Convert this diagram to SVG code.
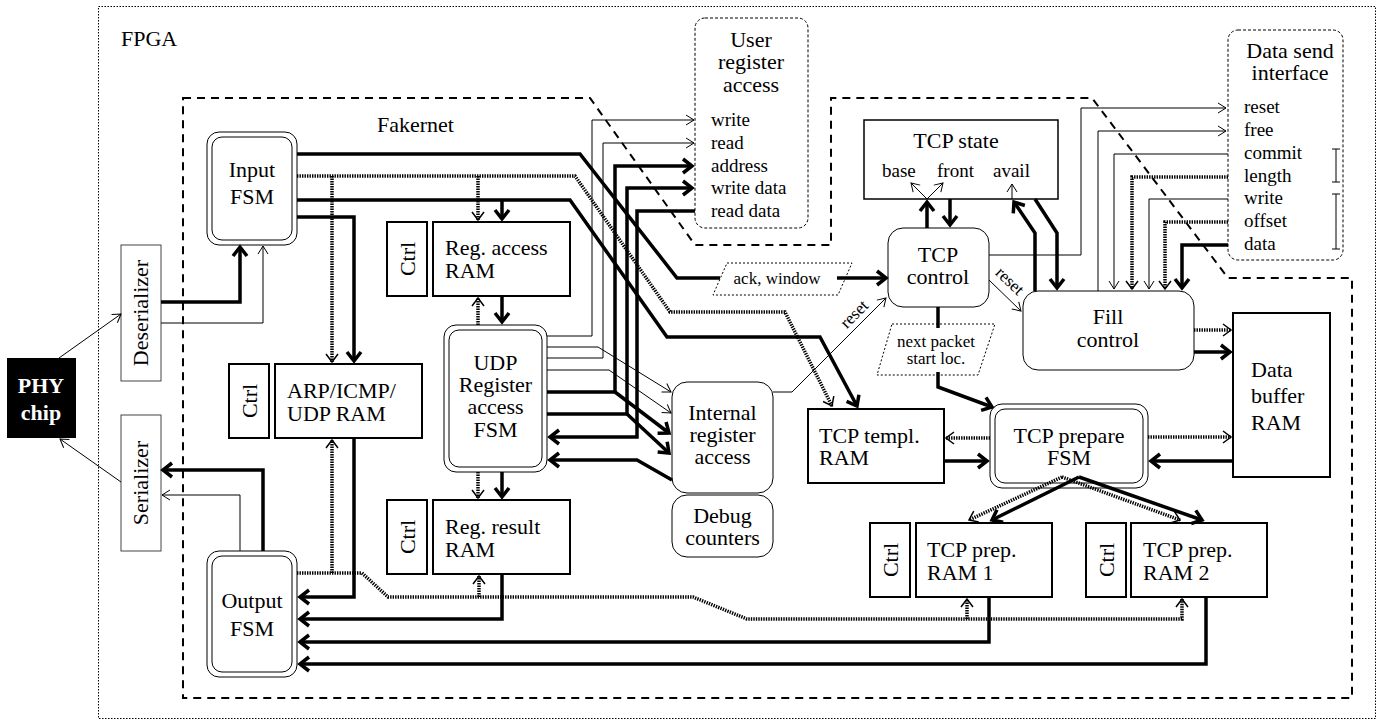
<svg xmlns="http://www.w3.org/2000/svg" width="1384" height="722" viewBox="0 0 1384 722">
<style>
.t{font-family:"Liberation Serif","Times New Roman",serif;font-size:22px;fill:#000}
.m{text-anchor:middle}
.s{font-size:19px}
.xs{font-size:17px}
.box{fill:#fff;stroke:#000;stroke-width:2}
.sbox{fill:#fff;stroke:#444;stroke-width:1}
.rbox{fill:#fff;stroke:#000;stroke-width:1}
.thin{fill:none;stroke:#000;stroke-width:1}
.thick{fill:none;stroke:#000;stroke-width:3.5}
.dot{fill:none;stroke:#000;stroke-width:3.5;stroke-dasharray:1.4 1.1}
.lbl{fill:none;stroke:#000;stroke-width:1;stroke-dasharray:2 2}
</style>
<defs>
<marker id="ak" markerUnits="userSpaceOnUse" markerWidth="24" markerHeight="24" viewBox="-12 -12 24 24" refX="0" refY="0" orient="auto" overflow="visible"><path d="M-9,-7 L0,0 L-9,7" fill="none" stroke="#000" stroke-width="3.5"/></marker>
<marker id="at" markerUnits="userSpaceOnUse" markerWidth="20" markerHeight="20" viewBox="-10 -10 20 20" refX="0" refY="0" orient="auto" overflow="visible"><path d="M-8,-5 L0,0 L-8,5" fill="none" stroke="#000" stroke-width="1"/></marker>
<marker id="ad" markerUnits="userSpaceOnUse" markerWidth="20" markerHeight="20" viewBox="-10 -10 20 20" refX="0" refY="0" orient="auto" overflow="visible"><path d="M-8,-6 L0,0 L-8,6" fill="none" stroke="#000" stroke-width="1.5"/></marker>
</defs>
<rect width="1384" height="722" fill="#fff"/>

<g id="fpga">
<rect x="98.5" y="6.5" width="1277" height="712" fill="none" stroke="#000" stroke-width="1" stroke-dasharray="1.5 1.5"/>
<text class="t" x="121" y="46">FPGA</text>
</g>
<g id="fakernet">
<polygon points="183,98 590,98 695,245 831,245 831,98 1092,98 1228,278 1352,278 1352,698 183,698" fill="none" stroke="#000" stroke-width="2" stroke-dasharray="8 6"/>
<text class="t" x="377" y="132">Fakernet</text>
</g>

<g id="user-reg">
<rect x="695" y="18" width="113" height="210" rx="10" fill="none" stroke="#000" stroke-width="1" stroke-dasharray="3 2"/>
<text class="t m" x="751" y="47">User</text>
<text class="t m" x="751" y="69">register</text>
<text class="t m" x="751" y="92">access</text>
<text class="t s" x="711" y="126">write</text>
<text class="t s" x="711" y="149">read</text>
<text class="t s" x="711" y="172">address</text>
<text class="t s" x="711" y="194">write data</text>
<text class="t s" x="711" y="217">read data</text>
</g>

<g id="data-send">
<rect x="1228" y="30" width="115" height="230" rx="10" fill="none" stroke="#000" stroke-width="1" stroke-dasharray="3 2"/>
<text class="t m" x="1290" y="58">Data send</text>
<text class="t m" x="1290" y="80">interface</text>
<text class="t s" x="1244" y="113">reset</text>
<text class="t s" x="1244" y="136">free</text>
<text class="t s" x="1244" y="159">commit</text>
<text class="t s" x="1244" y="182">length</text>
<text class="t s" x="1244" y="204">write</text>
<text class="t s" x="1244" y="227">offset</text>
<text class="t s" x="1244" y="250">data</text>
<path class="thin" d="M1336,149 V182 M1332,149 H1340 M1332,182 H1340 M1336,194 V249 M1332,194 H1340 M1332,249 H1340"/>
</g>

<g id="phy">
<rect x="7" y="358" width="69" height="80" fill="#000"/>
<text class="t m" x="41" y="393" style="fill:#fff;font-weight:bold">PHY</text>
<text class="t m" x="41" y="420" style="fill:#fff;font-weight:bold">chip</text>
</g>
<g id="deserializer">
<rect class="sbox" x="121" y="245" width="40" height="136"/>
<text class="t m" transform="translate(141,313) rotate(-90)" y="7">Deserializer</text>
</g>
<g id="serializer">
<rect class="sbox" x="121" y="415" width="40" height="136"/>
<text class="t m" transform="translate(141,483) rotate(-90)" y="7">Serializer</text>
</g>

<g id="input-fsm">
<rect class="rbox" x="207" y="132" width="90" height="113" rx="12"/>
<rect class="rbox" x="212" y="137" width="80" height="103" rx="10"/>
<text class="t m" x="252" y="177">Input</text>
<text class="t m" x="252" y="204">FSM</text>
</g>
<g id="output-fsm">
<rect class="rbox" x="207" y="551" width="90" height="126" rx="12"/>
<rect class="rbox" x="212" y="556" width="80" height="116" rx="10"/>
<text class="t m" x="252" y="608">Output</text>
<text class="t m" x="252" y="636">FSM</text>
</g>

<g id="arp-ctrl">
<rect class="box" x="229" y="364" width="40" height="74"/>
<text class="t m" transform="translate(249,401) rotate(-90)" y="7.5">Ctrl</text>
</g>
<g id="arp-ram">
<rect class="box" x="275" y="364" width="147" height="74"/>
<text class="t" x="287" y="398">ARP/ICMP/</text>
<text class="t" x="287" y="421">UDP RAM</text>
</g>

<g id="regacc-ctrl">
<rect class="box" x="387" y="222" width="40" height="74"/>
<text class="t m" transform="translate(407,259) rotate(-90)" y="7.5">Ctrl</text>
</g>
<g id="regacc-ram">
<rect class="box" x="433" y="222" width="137" height="74"/>
<text class="t" x="445" y="255">Reg. access</text>
<text class="t" x="445" y="278">RAM</text>
</g>
<g id="regres-ctrl">
<rect class="box" x="387" y="500" width="40" height="74"/>
<text class="t m" transform="translate(407,537) rotate(-90)" y="7.5">Ctrl</text>
</g>
<g id="regres-ram">
<rect class="box" x="433" y="500" width="137" height="74"/>
<text class="t" x="445" y="534">Reg. result</text>
<text class="t" x="445" y="557">RAM</text>
</g>

<g id="udp-fsm">
<rect class="rbox" x="444" y="325" width="103" height="147" rx="12"/>
<rect class="rbox" x="449" y="330" width="93" height="137" rx="10"/>
<text class="t m" x="495.5" y="370">UDP</text>
<text class="t m" x="495.5" y="392">Register</text>
<text class="t m" x="495.5" y="414">access</text>
<text class="t m" x="495.5" y="437">FSM</text>
</g>

<g id="internal-reg">
<rect class="rbox" x="672" y="382" width="101" height="111" rx="15"/>
<text class="t m" x="722.5" y="420">Internal</text>
<text class="t m" x="722.5" y="442">register</text>
<text class="t m" x="722.5" y="464">access</text>
</g>
<g id="debug">
<rect class="rbox" x="672" y="495" width="101" height="62" rx="15"/>
<text class="t m" x="722.5" y="523">Debug</text>
<text class="t m" x="722.5" y="545">counters</text>
</g>

<g id="tcp-state">
<rect x="864" y="120" width="194" height="79" fill="#fff" stroke="#000" stroke-width="1.5"/>
<text class="t m" x="956" y="148">TCP state</text>
<text class="t s" x="882" y="177">base</text>
<text class="t s" x="937" y="177">front</text>
<text class="t s" x="993" y="177">avail</text>
</g>
<g id="tcp-control">
<rect class="rbox" x="888" y="228" width="101" height="79" rx="15"/>
<text class="t m" x="938" y="262">TCP</text>
<text class="t m" x="938" y="284">control</text>
</g>
<g id="fill-control">
<rect class="rbox" x="1023" y="291" width="171" height="79" rx="15"/>
<text class="t m" x="1108" y="324">Fill</text>
<text class="t m" x="1108" y="347">control</text>
</g>
<g id="data-buffer">
<rect class="box" x="1233" y="313" width="97" height="164"/>
<text class="t" x="1251" y="377">Data</text>
<text class="t" x="1251" y="403">buffer</text>
<text class="t" x="1251" y="430">RAM</text>
</g>
<g id="tcp-templ">
<rect class="box" x="808" y="409" width="136" height="74"/>
<text class="t" x="819" y="443">TCP templ.</text>
<text class="t" x="819" y="465">RAM</text>
</g>
<g id="tcp-prepare">
<rect class="rbox" x="990" y="404" width="158" height="84" rx="12"/>
<rect class="rbox" x="995" y="409" width="148" height="74" rx="10"/>
<text class="t m" x="1069" y="443">TCP prepare</text>
<text class="t m" x="1069" y="465">FSM</text>
</g>
<g id="prep1-ctrl">
<rect class="box" x="870" y="523" width="40" height="74"/>
<text class="t m" transform="translate(890,560) rotate(-90)" y="7.5">Ctrl</text>
</g>
<g id="prep1-ram">
<rect class="box" x="916" y="523" width="136" height="74"/>
<text class="t" x="927" y="557">TCP prep.</text>
<text class="t" x="927" y="580">RAM 1</text>
</g>
<g id="prep2-ctrl">
<rect class="box" x="1086" y="523" width="40" height="74"/>
<text class="t m" transform="translate(1106,560) rotate(-90)" y="7.5">Ctrl</text>
</g>
<g id="prep2-ram">
<rect class="box" x="1131" y="523" width="136" height="74"/>
<text class="t" x="1143" y="557">TCP prep.</text>
<text class="t" x="1143" y="580">RAM 2</text>
</g>

<g id="connectors">
<path class="thin" d="M59,358 L121,314" marker-end="url(#at)"/>
<path class="thin" d="M121,482 L60,439" marker-end="url(#at)"/>
<path class="thick" d="M161,302 H240 V247" marker-end="url(#ak)"/>
<path class="thin" d="M161,323 H263 V246" marker-end="url(#at)"/>
<path class="thick" d="M263,551 V470 H163" marker-end="url(#ak)"/>
<path class="thin" d="M240,551 V495 H162" marker-end="url(#at)"/>
<path class="thick" d="M297,154 H580 L677,278 H720"/>
<path class="thick" d="M837,278 H886" marker-end="url(#ak)"/>
<path class="dot" d="M297,176 H575 L670,312 H785 L832,406" marker-end="url(#ad)"/>
<path class="dot" d="M332,176 V362" marker-end="url(#ad)"/>
<path class="dot" d="M478,176 V220" marker-end="url(#ad)"/>
<path class="thick" d="M297,200 H570 L667,337 H820 L857,406" marker-end="url(#ak)"/>
<path class="thick" d="M502,200 V219" marker-end="url(#ak)"/>
<path class="thick" d="M297,217 H354 V361" marker-end="url(#ak)"/>
<path class="thick" d="M354,438 V597 H300" marker-end="url(#ak)"/>
<path class="dot" d="M297,573 H362 L388,597 H693 L747,619 H1182 V599" marker-end="url(#ad)"/>
<path class="dot" d="M332,573 V440" marker-end="url(#ad)"/>
<path class="dot" d="M479,597 V576" marker-end="url(#ad)"/>
<path class="dot" d="M967,619 V599" marker-end="url(#ad)"/>
<path class="thick" d="M502,574 V619 H300" marker-end="url(#ak)"/>
<path class="thick" d="M989,597 V642 H300" marker-end="url(#ak)"/>
<path class="thick" d="M1206,597 V664 H300" marker-end="url(#ak)"/>
<path class="thick" d="M502,296 V322" marker-end="url(#ak)"/>
<path class="dot" d="M478,325 V298" marker-end="url(#ad)"/>
<path class="thick" d="M502,472 V497" marker-end="url(#ak)"/>
<path class="dot" d="M478,472 V498" marker-end="url(#ad)"/>
<path class="thin" d="M547,336 H592 V120 H694" marker-end="url(#at)"/>
<path class="thin" d="M547,358 H603 V143 H694" marker-end="url(#at)"/>
<path class="thick" d="M547,392 H615 V166 H692" marker-end="url(#ak)"/>
<path class="thick" d="M615,392 L669,433" marker-end="url(#ak)"/>
<path class="thick" d="M547,414 H627 V188 H692" marker-end="url(#ak)"/>
<path class="thick" d="M627,414 L669,453" marker-end="url(#ak)"/>
<path class="thick" d="M695,211 H637 V437 H550" marker-end="url(#ak)"/>
<path class="thin" d="M547,347 H598 L671,392" marker-end="url(#at)"/>
<path class="thin" d="M547,370 H609 L671,413" marker-end="url(#at)"/>
<path class="thick" d="M672,480 L637,460 H550" marker-end="url(#ak)"/>
<path class="thin" d="M773,392 H792 L886,298" marker-end="url(#at)"/>
<text class="t xs m" transform="translate(858,318) rotate(-45)">reset</text>
<path class="thick" d="M927,228 V202" marker-end="url(#ak)"/>
<path class="thick" d="M950,199 V225" marker-end="url(#ak)"/>
<path class="thin" d="M927,199 L911,183" marker-end="url(#at)"/>
<path class="thin" d="M927,199 L943,183" marker-end="url(#at)"/>
<path class="thin" d="M1012,199 V184" marker-end="url(#at)"/>
<path class="thick" d="M1035,291 V233 L1014,202" marker-end="url(#ak)"/>
<path class="thick" d="M1035,199 L1057,233 V288" marker-end="url(#ak)"/>
<path class="thin" d="M989,280 L1021,311" marker-end="url(#at)"/>
<text class="t xs m" transform="translate(1006,285) rotate(44)">reset</text>
<path class="thin" d="M989,255 H1081 V108 H1226" marker-end="url(#at)"/>
<path class="thin" d="M1098,291 V131 H1226" marker-end="url(#at)"/>
<path class="thin" d="M1228,154 H1114 V289" marker-end="url(#at)"/>
<path class="dot" d="M1228,177 H1132 V289" marker-end="url(#ad)"/>
<path class="thin" d="M1228,199 H1149 V289" marker-end="url(#at)"/>
<path class="dot" d="M1228,222 H1165 V289" marker-end="url(#ad)"/>
<path class="thick" d="M1228,245 H1182 V288" marker-end="url(#ak)"/>
<path class="dot" d="M1194,330 H1231" marker-end="url(#ad)"/>
<path class="thick" d="M1194,352 H1230" marker-end="url(#ak)"/>
<path class="dot" d="M1148,437 H1231" marker-end="url(#ad)"/>
<path class="thick" d="M1233,461 H1151" marker-end="url(#ak)"/>
<path class="dot" d="M990,438 H946" marker-end="url(#ad)"/>
<path class="thick" d="M944,461 H987" marker-end="url(#ak)"/>
<path class="thick" d="M938,307 V328"/>
<path class="thick" d="M938,372 V387 L992,407" marker-end="url(#ak)"/>
<path class="dot" d="M1062,477 L969,520" marker-end="url(#ad)"/>
<path class="dot" d="M1062,477 L1180,520" marker-end="url(#ad)"/>
<path class="thick" d="M1079,477 L992,520" marker-end="url(#ak)"/>
<path class="thick" d="M1079,477 L1202,520" marker-end="url(#ak)"/>
</g>

<g id="label-ack">
<polygon class="lbl" points="727,263 852,263 838,295 713,295"/>
<text class="t xs m" x="777" y="284">ack, window</text>
</g>
<g id="label-next">
<polygon class="lbl" points="892,324 995,324 978,375 877,375"/>
<text class="t xs m" x="936" y="347">next packet</text>
<text class="t xs m" x="936" y="364">start loc.</text>
</g>
</svg>
